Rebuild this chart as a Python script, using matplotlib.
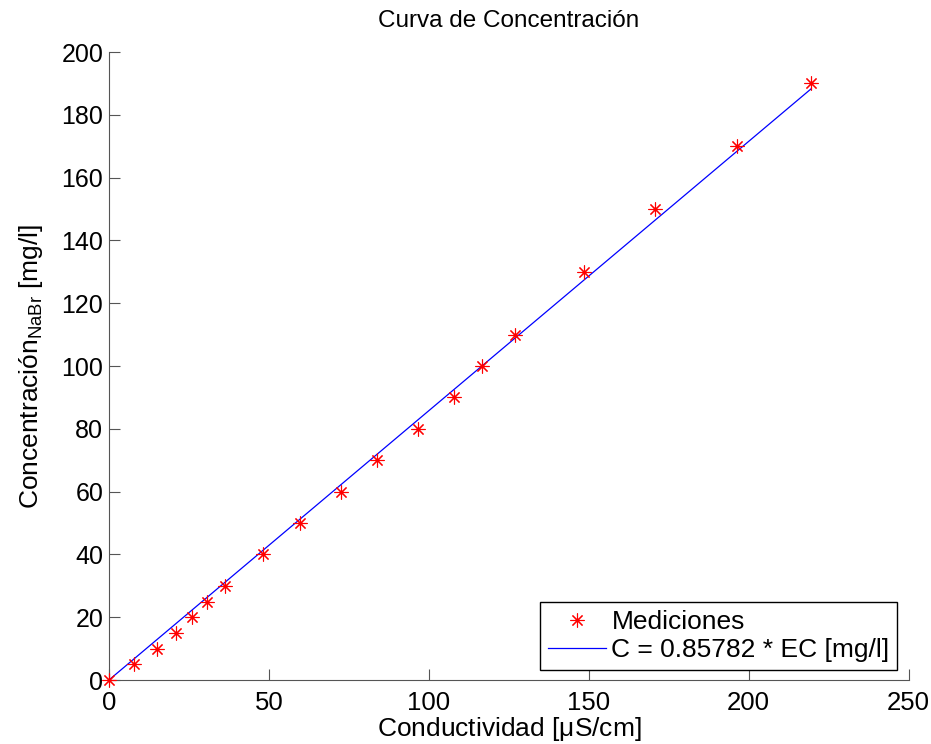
# -*- coding: utf-8 -*-
# ----- Include library -----
import numpy as np
import matplotlib
matplotlib.use("Agg")
import matplotlib.pyplot as plt

# ----- Data -----
conductividad = [0, 7.7, 14.9, 20.9, 26.0, 30.8, 36.3, 48.1, 59.7, 72.4,
                 83.8, 96.7, 107.8, 116.5, 126.9, 148.4, 170.6, 196.3, 219.5]
concentracion = [0, 5, 10, 15, 20, 25, 30, 40, 50, 60,
                 70, 80, 90, 100, 110, 130, 150, 170, 190]
pendiente = 0.85782   # C = k * EC

x_ticks = [0, 50, 100, 150, 200, 250]
y_ticks = [0, 20, 40, 60, 80, 100, 120, 140, 160, 180, 200]

plt.rcParams['font.family'] = ['Liberation Sans', 'DejaVu Sans']
plt.rcParams['mathtext.fontset'] = 'custom'
plt.rcParams['mathtext.rm'] = 'Liberation Sans'


def main_proc():
    fig = plt.figure(figsize=(9.31, 7.44), dpi=100)
    ax = fig.add_axes([0.117, 0.086, 0.859, 0.844])

    # mediciones (sin recorte, el punto del origen queda sobre los ejes)
    ax.plot(conductividad, concentracion, linestyle='none', marker=(8, 2, 0),
            markersize=10, markeredgecolor='red', markeredgewidth=0.8,
            color='red', label='Mediciones', clip_on=False, zorder=3)
    # recta de ajuste
    ec = np.array([0, max(conductividad)])
    ax.plot(ec, pendiente * ec, color='blue', linewidth=0.9,
            label='C = %.5f * EC [mg/l]' % pendiente)

    ax.set_xlim(x_ticks[0], x_ticks[-1])
    ax.set_ylim(y_ticks[0], y_ticks[-1])
    ax.set_xticks(x_ticks)
    ax.set_yticks(y_ticks)

    ax.spines['top'].set_visible(False)
    ax.spines['right'].set_visible(False)
    for s in ['left', 'bottom']:
        ax.spines[s].set_color('#555555')
    ax.tick_params(direction='in', length=8, width=0.8, colors='#555555',
                   labelcolor='black', labelsize=18, pad=4)
    ax.tick_params(axis='x', labelsize=18.5, pad=8)

    ax.set_title('Curva de Concentración', fontsize=17.5, pad=18)
    ax.set_xlabel('Conductividad [$\\mathregular{\\mu}$S/cm]', fontsize=19, labelpad=0)
    ax.set_ylabel('Concentración$_{\\mathregular{NaBr}}$ [mg/l]', fontsize=19, labelpad=12)

    leg = ax.legend(loc='lower right', bbox_to_anchor=(0.986, 0.016),
                    borderaxespad=0, fontsize=19, fancybox=False,
                    framealpha=1, edgecolor='black', handlelength=2.2,
                    handletextpad=0.2, borderpad=0.3, labelspacing=0.15)
    leg.get_frame().set_linewidth(1.0)

    fig.savefig('out.png', dpi=100)


if __name__ == '__main__':
    main_proc()
